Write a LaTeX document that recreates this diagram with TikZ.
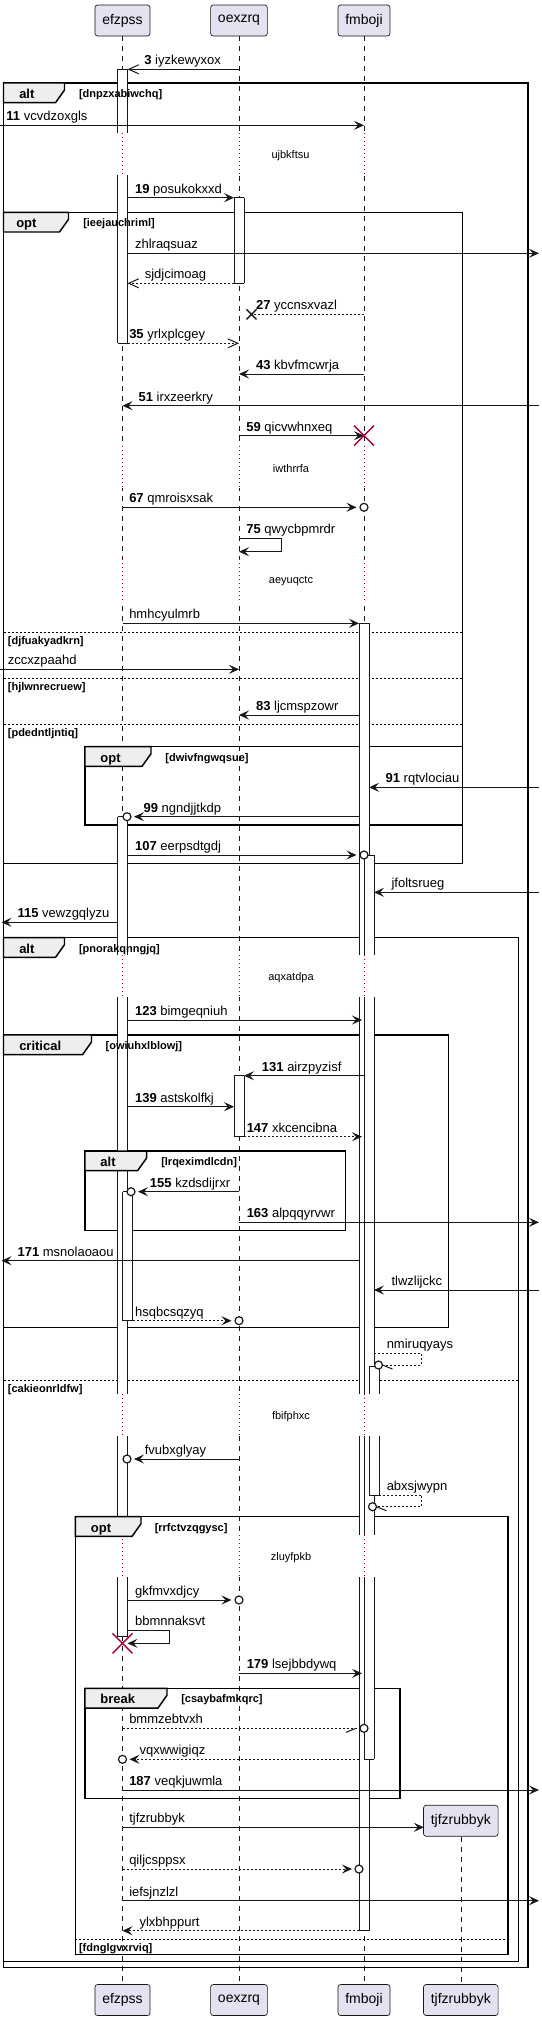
\documentclass[tikz,border=0pt]{standalone}
\usepackage{fontspec}
\setmainfont{Liberation Sans}
\usetikzlibrary{arrows.meta}
\definecolor{partfill}{HTML}{E2E2F0}
\definecolor{ink}{HTML}{181818}
\definecolor{tabfill}{HTML}{EEEEEE}
\definecolor{delayred}{HTML}{A80036}
\tikzset{part/.style={draw=ink, fill=partfill, rounded corners=2pt, line width=0.5pt,
   minimum height=23.25pt, inner xsep=5.5pt, font=\fontsize{10.5}{12}\selectfont},
 lifeline/.style={draw=ink, line width=0.4pt, dash pattern=on 3.75pt off 3.75pt},
 delayline/.style={draw=delayred, line width=0.7pt, dash pattern=on 0.75pt off 2.25pt},
 frame/.style={draw=black, line width=1.1pt},
 tab/.style={draw=black, fill=tabfill, line width=1.1pt},
 tablabel/.style={anchor=base west, inner sep=0pt, font=\fontsize{9.75}{11}\selectfont\bfseries},
 guard/.style={anchor=base west, inner sep=0pt, font=\fontsize{8.25}{10}\selectfont\bfseries},
 elsesep/.style={draw=black, line width=0.75pt, dash pattern=on 1.5pt off 1.5pt},
 actline/.style={draw=ink, line width=0.75pt},
 msg/.style={draw=ink, line width=0.75pt, -{Stealth[length=7.5pt,width=6.75pt,inset=3pt]}},
 rmsg/.style={msg, dash pattern=on 1.5pt off 1.5pt},
 amsg/.style={draw=ink, line width=0.75pt, -{Straight Barb[length=7.5pt,width=6.75pt]}},
 ramsg/.style={amsg, dash pattern=on 1.5pt off 1.5pt},
 rline/.style={draw=ink, line width=0.75pt, dash pattern=on 1.5pt off 1.5pt},
 barb/.style={draw=ink, line width=0.75pt},
 endo/.style={draw=ink, fill=white, line width=0.9pt},
 lostx/.style={draw=ink, line width=1.1pt},
 kill/.style={draw=delayred, line width=1.1pt},
 lbl/.style={anchor=base west, inner sep=0pt, font=\fontsize{9.75}{11}\selectfont},
 delaytxt/.style={inner sep=0pt, font=\fontsize{8.25}{10}\selectfont},
}
% lifelines turn dotted during a delay
\newcommand{\delaygap}[1]{%
  \draw[white, line width=2pt] (122.5,#1-21) -- (122.5,#1+21) (239,#1-21) -- (239,#1+21) (364,#1-21) -- (364,#1+21);
  \draw[delayline] (122.5,#1-21) -- (122.5,#1+21) (239,#1-21) -- (239,#1+21) (364,#1-21) -- (364,#1+21);}
% one piece of an activation bar, and its end
\newcommand{\actpart}[3]{%
  \fill[white] (#1-5,#2) rectangle (#1+5,#3);
  \draw[actline] (#1-5,#2) -- (#1-5,#3) (#1+5,#2) -- (#1+5,#3);}
\newcommand{\actcap}[2]{\draw[actline] (#1-5,#2) -- (#1+5,#2);}

\begin{document}
\begin{tikzpicture}[x=0.75pt,y=-0.75pt]
\useasboundingbox (0,0) rectangle (542,2021);

% participants
\node[part] (pE) at (122.5,20.5) {efzpss};
\node[part] (pO) at (239,20.5) {oexzrq};
\node[part] (pF) at (364,20.5) {fmboji};
\node[part] (qE) at (122.5,2000) {efzpss};
\node[part] (qO) at (239,2000) {oexzrq};
\node[part] (qF) at (364,2000) {fmboji};
\node[part] (pT) at (460.8,1820.8) {tjfzrubbyk};
\node[part] (qT) at (460.8,2000) {tjfzrubbyk};

\draw[lifeline] (pE) -- (qE);
\draw[lifeline] (pO) -- (qO);
\draw[lifeline] (pF) -- (qF);
\draw[lifeline] (pT) -- (qT);

\delaygap{154.2}
\delaygap{467}
\delaygap{580}
\delaygap{976.4}
\delaygap{1415}
\delaygap{1555.8}

% group frames
\draw[frame] (3.5,83) rectangle (527.8,1967.7);
\draw[frame] (3.5,212.3) rectangle (462.5,863.3);
\draw[frame] (85,746.7) rectangle (462.5,825);
\draw[frame] (3.5,937.7) rectangle (518.5,1961.7);
\draw[frame] (3.5,1035) rectangle (448.7,1327.7);
\draw[frame] (85,1151) rectangle (345.7,1230.7);
\draw[frame] (75.4,1516.7) rectangle (508,1954.3);
\draw[frame] (85,1688.3) rectangle (400,1798.3);

\draw[elsesep] (3.5,632.3) -- (462.5,632.3);
\node[guard] (e1) at (7.6,644.3) {[djfuakyadkrn]};
\draw[elsesep] (3.5,678.3) -- (462.5,678.3);
\node[guard] (e2) at (7.6,690.3) {[hjlwnrecruew]};
\draw[elsesep] (3.5,724) -- (462.5,724);
\node[guard] (e3) at (7.6,736) {[pdedntljntiq]};
\draw[elsesep] (3.5,1380) -- (518.5,1380);
\node[guard] (e4) at (7.6,1392) {[cakieonrldfw]};
\draw[elsesep] (75.4,1939.3) -- (508,1939.3);
\node[guard] (e5) at (78.8,1951.3) {[fdnglgvxrviq]};

% activations
\actpart{122.5}{69.3}{133.2} \actpart{122.5}{175.2}{343.3}
\actcap{122.5}{69.3} \actcap{122.5}{343.3}
\actpart{239}{197.7}{283.3} \actcap{239}{197.7} \actcap{239}{283.3}
\actpart{239}{1075.7}{1136.7} \actcap{239}{1075.7} \actcap{239}{1136.7}
\actpart{364}{623.3}{955.4} \actpart{364}{997.4}{1394} \actpart{364}{1436}{1534.8} \actpart{364}{1576.8}{1930.7}
\actcap{364}{623.3} \actcap{364}{1930.7}
\actpart{369}{855}{955.4} \actpart{369}{997.4}{1394} \actpart{369}{1436}{1534.8} \actpart{369}{1576.8}{1759.3}
\actcap{369}{855} \actcap{369}{1759.3}
\actpart{374}{1366.7}{1394} \actpart{374}{1436}{1495}
\actcap{374}{1366.7} \actcap{374}{1495}
\actpart{122.5}{816.7}{955.4} \actpart{122.5}{997.4}{1394} \actpart{122.5}{1436}{1534.8} \actpart{122.5}{1576.8}{1636.7}
\actcap{122.5}{816.7} \actcap{122.5}{1636.7}
\actpart{127.5}{1191.7}{1320.7} \actcap{127.5}{1191.7} \actcap{127.5}{1320.7}

% frame tabs
\filldraw[tab] (3.5,83) -- (64.5,83) -- (64.5,90) -- (55.5,102.7) -- (3.5,102.7) -- cycle;
\node[tablabel] (k0) at (19,98.5) {alt};
\node[guard] (c0) at (78.8,97.5) {[dnpzxabiwchq]};
\filldraw[tab] (3.5,212.3) -- (68.5,212.3) -- (68.5,219.3) -- (59.5,232) -- (3.5,232) -- cycle;
\node[tablabel] (k1) at (16,227.8) {opt};
\node[guard] (c1) at (83,226.8) {[ieejauchriml]};
\filldraw[tab] (85,746.7) -- (151,746.7) -- (151,753.7) -- (142,766.4) -- (85,766.4) -- cycle;
\node[tablabel] (k2) at (100.2,762.2) {opt};
\node[guard] (c2) at (165.2,761.2) {[dwivfngwqsue]};
\filldraw[tab] (3.5,937.7) -- (64.5,937.7) -- (64.5,944.7) -- (55.5,957.4) -- (3.5,957.4) -- cycle;
\node[tablabel] (k3) at (19,953.2) {alt};
\node[guard] (c3) at (78.8,952.2) {[pnorakqnngjq]};
\filldraw[tab] (3.5,1035) -- (91.5,1035) -- (91.5,1042) -- (82.5,1054.7) -- (3.5,1054.7) -- cycle;
\node[tablabel] (k4) at (19,1050.5) {critical};
\node[guard] (c4) at (105.4,1049.5) {[owiuhxlblowj]};
\filldraw[tab] (85,1151) -- (146.6,1151) -- (146.6,1158) -- (137.6,1170.7) -- (85,1170.7) -- cycle;
\node[tablabel] (k5) at (100.2,1166.5) {alt};
\node[guard] (c5) at (161,1165.5) {[lrqeximdlcdn]};
\filldraw[tab] (75.4,1516.7) -- (141,1516.7) -- (141,1523.7) -- (132,1536.4) -- (75.4,1536.4) -- cycle;
\node[tablabel] (k6) at (90.6,1532.2) {opt};
\node[guard] (c6) at (154.5,1531.2) {[rrfctvzqgysc]};
\filldraw[tab] (85,1688.3) -- (167,1688.3) -- (167,1695.3) -- (158,1708) -- (85,1708) -- cycle;
\node[tablabel] (k7) at (100.2,1703.8) {break};
\node[guard] (c7) at (181,1702.8) {[csaybafmkqrc]};

% delays
\node[delaytxt] (d1) at (290.5,155.7) {ujbkftsu};
\node[delaytxt] (d2) at (291,468.5) {iwthrrfa};
\node[delaytxt] (d3) at (291,581.5) {aeyuqctc};
\node[delaytxt] (d4) at (291,978) {aqxatdpa};
\node[delaytxt] (d5) at (291,1416.5) {fbifphxc};
\node[delaytxt] (d6) at (291,1557.3) {zluyfpkb};

% messages
\draw[amsg] (239,69.3) -- (127.5,69.3);
\node[lbl] (m1) at (144.1,64.8) {\textbf{3} iyzkewyxox};
\draw[msg] (0,125.3) -- (364,125.3);
\node[lbl] (m2) at (6.2,120.8) {\textbf{11} vcvdzoxgls};
\draw[msg] (127.5,197.7) -- (234,197.7);
\node[lbl] (m3) at (134.8,193.2) {\textbf{19} posukokxxd};
\draw[msg] (127.5,253.3) -- (539,253.3);
\node[lbl] (m4) at (134.8,248.8) {zhlraqsuaz};
\draw[ramsg] (234,283.3) -- (127.5,283.3);
\node[lbl] (m5) at (144.5,278.8) {sjdjcimoag};
\draw[rline] (364,314.3) -- (251.5,314.3);
\draw[lostx] (251.5,314.3) ++(-5,-5) -- ++(10,10) ++(-10,0) -- ++(10,-10);
\node[lbl] (m6) at (255.8,309.8) {\textbf{27} yccnsxvazl};
\draw[ramsg] (127.5,343.3) -- (239,343.3);
\node[lbl] (m7) at (129,338.8) {\textbf{35} yrlxplcgey};
\draw[msg] (364,374) -- (239,374);
\node[lbl] (m8) at (255.8,369.5) {\textbf{43} kbvfmcwrja};
\draw[msg] (539,405.7) -- (122.5,405.7);
\node[lbl] (m9) at (138.3,401.2) {\textbf{51} irxzeerkry};
\draw[msg] (239,435.7) -- (364,435.7);
\draw[kill] (364,435.7) ++(-10,-10) -- ++(20,20) ++(-20,0) -- ++(20,-20);
\node[lbl] (m10) at (246.1,431.2) {\textbf{59} qicvwhnxeq};
\draw[msg] (122.5,507.3) -- (356.5,507.3);
\draw[endo] (364,507.3) circle[radius=3pt];
\node[lbl] (m11) at (129,502.8) {\textbf{67} qmroisxsak};
\draw[msg] (239,538.3) -- (281.7,538.3) -- (281.7,551.7) -- (239,551.7);
\node[lbl] (m12) at (246.1,533.8) {\textbf{75} qwycbpmrdr};
\draw[msg] (122.5,623.3) -- (359,623.3);
\node[lbl] (m13) at (129,618.8) {hmhcyulmrb};
\draw[msg] (0,669.3) -- (239,669.3);
\node[lbl] (m14) at (7.6,664.8) {zccxzpaahd};
\draw[msg] (359,715) -- (239,715);
\node[lbl] (m15) at (255.8,710.5) {\textbf{83} ljcmspzowr};
\draw[msg] (539,787.3) -- (369,787.3);
\node[lbl] (m16) at (385.4,782.8) {\textbf{91} rqtvlociau};
\draw[msg] (359,816.7) -- (134,816.7);
\draw[endo] (127,816.7) circle[radius=3pt];
\node[lbl] (m17) at (143.4,812.2) {\textbf{99} ngndjjtkdp};
\draw[msg] (127.5,855) -- (356.5,855);
\draw[endo] (364,855) circle[radius=3pt];
\node[lbl] (m18) at (134.8,850.5) {\textbf{107} eerpsdtgdj};
\draw[msg] (539,892.3) -- (374,892.3);
\node[lbl] (m19) at (391.3,887.8) {jfoltsrueg};
\draw[msg] (117.5,922.3) -- (1.5,922.3);
\node[lbl] (m20) at (17.3,917.8) {\textbf{115} vewzgqlyzu};
\draw[msg] (127.5,1020) -- (362,1020);
\node[lbl] (m21) at (134.8,1015.5) {\textbf{123} bimgeqniuh};
\draw[msg] (364,1075.7) -- (244,1075.7);
\node[lbl] (m22) at (261.7,1071.2) {\textbf{131} airzpyzisf};
\draw[msg] (127.5,1106.7) -- (234,1106.7);
\node[lbl] (m23) at (134.8,1102.2) {\textbf{139} astskolfkj};
\draw[rmsg] (244,1136.7) -- (362,1136.7);
\node[lbl] (m24) at (246.5,1132.2) {\textbf{147} xkcencibna};
\draw[msg] (239,1191.7) -- (138,1191.7);
\draw[endo] (131,1191.7) circle[radius=3pt];
\node[lbl] (m25) at (149.7,1187.2) {\textbf{155} kzdsdijrxr};
\draw[msg] (239,1222.3) -- (539,1222.3);
\node[lbl] (m26) at (246.5,1217.8) {\textbf{163} alpqqyrvwr};
\draw[msg] (359,1260.7) -- (1.5,1260.7);
\node[lbl] (m27) at (17.3,1256.2) {\textbf{171} msnolaoaou};
\draw[msg] (539,1290) -- (374,1290);
\node[lbl] (m28) at (391.3,1285.5) {tlwzlijckc};
\draw[rmsg] (132.5,1320.7) -- (231.5,1320.7);
\draw[endo] (239,1320.7) circle[radius=3pt];
\node[lbl] (m29) at (134.8,1316.2) {hsqbcsqzyq};
\draw[rline] (374,1353.3) -- (421,1353.3) -- (421,1365) -- (382.5,1365);
\draw[barb] (382.5,1365) -- (392.5,1369);
\draw[endo] (378.5,1365) circle[radius=3pt];
\node[lbl] (m30) at (386.5,1348.8) {nmiruqyays};
\draw[msg] (239,1459) -- (134,1459);
\draw[endo] (127,1459) circle[radius=3pt];
\node[lbl] (m31) at (144.5,1454.5) {fvubxglyay};
\draw[rline] (379,1495) -- (421.7,1495) -- (421.7,1506.7) -- (376.5,1506.7);
\draw[barb] (376.5,1506.7) -- (386.5,1510.7);
\draw[endo] (372.5,1506.7) circle[radius=3pt];
\node[lbl] (m32) at (386.5,1490.5) {abxsjwypn};
\draw[msg] (127.5,1600) -- (231.5,1600);
\draw[endo] (239,1600) circle[radius=3pt];
\node[lbl] (m33) at (134.8,1595.5) {gkfmvxdjcy};
\draw[msg] (127.5,1630) -- (169.4,1630) -- (169.4,1643.3) -- (127.5,1643.3);
\draw[kill] (122.5,1643.3) ++(-10,-10) -- ++(20,20) ++(-20,0) -- ++(20,-20);
\node[lbl] (m34) at (134.8,1625.5) {bbmnnaksvt};
\draw[msg] (239,1673.3) -- (362,1673.3);
\node[lbl] (m35) at (246.5,1668.8) {\textbf{179} lsejbbdywq};
\draw[rline] (122.5,1728.3) -- (360,1728.3);
\draw[barb] (356,1728.3) -- (346,1732.3);
\draw[endo] (364,1728.3) circle[radius=3pt];
\node[lbl] (m36) at (129,1723.8) {bmmzebtvxh};
\draw[rmsg] (359,1759.3) -- (129.5,1759.3);
\draw[endo] (122.5,1759.3) circle[radius=3pt];
\node[lbl] (m37) at (139.3,1754.8) {vqxwwigiqz};
\draw[msg] (122.5,1790) -- (539,1790);
\node[lbl] (m38) at (129,1785.5) {\textbf{187} veqkjuwmla};
\draw[msg] (122.5,1827.3) -- (423.8,1827.3);
\node[lbl] (m39) at (129,1822.8) {tjfzrubbyk};
\draw[rmsg] (122.5,1869) -- (352,1869);
\draw[endo] (359,1869) circle[radius=3pt];
\node[lbl] (m40) at (129,1864.5) {qiljcsppsx};
\draw[msg] (122.5,1900.7) -- (539,1900.7);
\node[lbl] (m41) at (129,1896.2) {iefsjnzlzl};
\draw[rmsg] (359,1930.7) -- (122.5,1930.7);
\node[lbl] (m42) at (139.3,1926.2) {ylxbhppurt};
\end{tikzpicture}
\end{document}
